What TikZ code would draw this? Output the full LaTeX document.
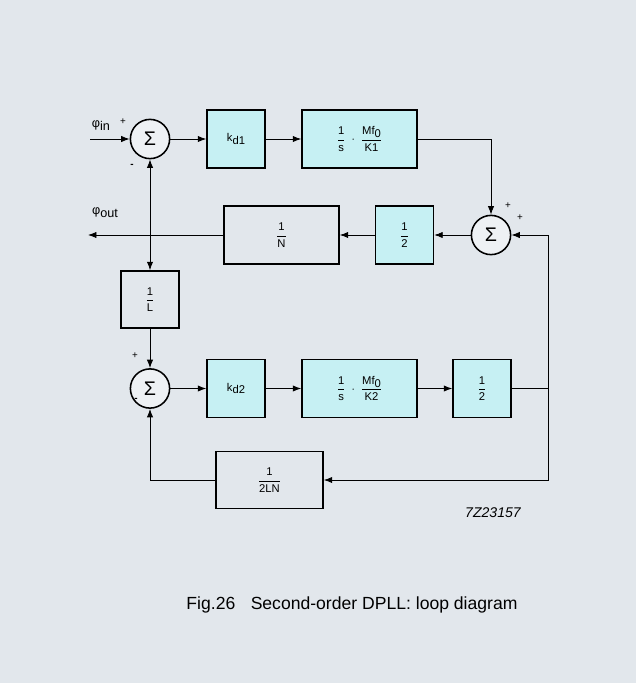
\documentclass[tikz,border=0pt]{standalone}
\usepackage{fontspec}
\setmainfont{Liberation Sans}
\usepackage{amsmath}
\usetikzlibrary{arrows.meta, positioning}
\definecolor{paperbg}{RGB}{226, 231, 236}
\definecolor{blockcyan}{RGB}{198, 240, 243}
\newcommand{\lowsub}[1]{\raisebox{-0.45ex}{#1}}
\newcommand{\tfr}[2]{$\dfrac{\text{#1}}{\text{#2}}$}

\begin{document}
\begin{tikzpicture}[x=0.025cm, y=-0.025cm,
  block/.style={draw, line width=1.1pt, align=center, font=\fontsize{8}{9}\selectfont,
    minimum width=1.45cm, minimum height=1.45cm, inner sep=1pt},
  cyanblock/.style={block, fill=blockcyan},
  greyblock/.style={block, fill=paperbg},
  sumnode/.style={draw, circle, line width=1.1pt, fill=paperbg!60!white, minimum size=0.98cm,
    inner sep=0pt, font=\fontsize{14}{16}\selectfont},
  sign/.style={font=\fontsize{7}{8}\selectfont, inner sep=0pt},
  wire/.style={line width=0.6pt, -{Latex[length=6pt, width=4.5pt]}},
  line/.style={line width=0.6pt}
]
  \fill[paperbg] (0,0) rectangle (636,683);

  % upper loop
  \node[sumnode] (sum1) at (150,139) {Σ};
  \node[cyanblock] (kd1) at (236,139) {k\lowsub{d1}};
  \node[cyanblock, minimum width=2.875cm] (filt1) at (359.5,139)
    {\tfr{1}{s}\hspace{0.5em}$\cdot$\hspace{0.5em}\tfr{Mf\lowsub{0}}{K1}};
  \node[sumnode] (sum2) at (491,235) {Σ};
  \node[cyanblock] (half1) at (404.5,235) {\tfr{1}{2}};
  \node[greyblock, minimum width=2.875cm] (divN) at (281.5,235) {\tfr{1}{N}};

  % lower loop
  \node[greyblock, minimum height=1.425cm] (divL) at (150,299.5) {\tfr{1}{L}};
  \node[sumnode] (sum3) at (150,388.5) {Σ};
  \node[cyanblock] (kd2) at (236,388.5) {k\lowsub{d2}};
  \node[cyanblock, minimum width=2.875cm] (filt2) at (359.5,388.5)
    {\tfr{1}{s}\hspace{0.5em}$\cdot$\hspace{0.5em}\tfr{Mf\lowsub{0}}{K2}};
  \node[cyanblock] (half2) at (482,388.5) {\tfr{1}{2}};
  \node[greyblock, minimum width=2.675cm, minimum height=1.425cm] (div2LN) at (269.5,480)
    {\tfr{1}{2LN}};

  \coordinate (phiin) at (90,139);
  \coordinate (phiout) at (88,235);
  \coordinate (tap) at (150,235);
  \coordinate (ret) at (548,388.5);

  % connectors
  \draw[wire] (phiin) -- (sum1);
  \draw[wire] (sum1) -- (kd1);
  \draw[wire] (kd1) -- (filt1);
  \draw[wire] (filt1.east) -| (sum2.north);
  \draw[wire] (sum2) -- (half1);
  \draw[wire] (half1) -- (divN);
  \draw[wire] (divN) -- (phiout);
  \draw[wire] (tap) -- (sum1);
  \draw[wire] (tap) -- (divL);
  \draw[wire] (divL) -- (sum3);
  \draw[wire] (sum3) -- (kd2);
  \draw[wire] (kd2) -- (filt2);
  \draw[wire] (filt2) -- (half2);
  \draw[line] (half2) -- (ret);
  \draw[wire] (ret) |- (sum2.east);
  \draw[wire] (ret) |- (div2LN.east);
  \draw[wire] (div2LN.west) -| (sum3.south);

  % signs and labels
  \node[font=\fontsize{9}{10}\selectfont] (lblin) at (101,126) {φ\lowsub{in}};
  \node[font=\fontsize{9}{10}\selectfont] (lblout) at (105,213) {φ\lowsub{out}};
  \node[sign] (p1) at (123,122) {+};
  \node[sign] (m1) at (132,166) {\textbf{-}};
  \node[sign] (p2) at (508,206) {+};
  \node[sign] (p3) at (520,218) {+};
  \node[sign] (p4) at (135,356) {+};
  \node[sign] (m3) at (136,400) {\textbf{-}};
  \node[font=\itshape\fontsize{10}{12}\selectfont] (code) at (493,513) {7Z23157};
  \node[font=\fontsize{12.5}{15}\selectfont] (caption) at (352,605)
    {Fig.26\hspace{0.6em} Second-order DPLL: loop diagram};
\end{tikzpicture}
\end{document}
